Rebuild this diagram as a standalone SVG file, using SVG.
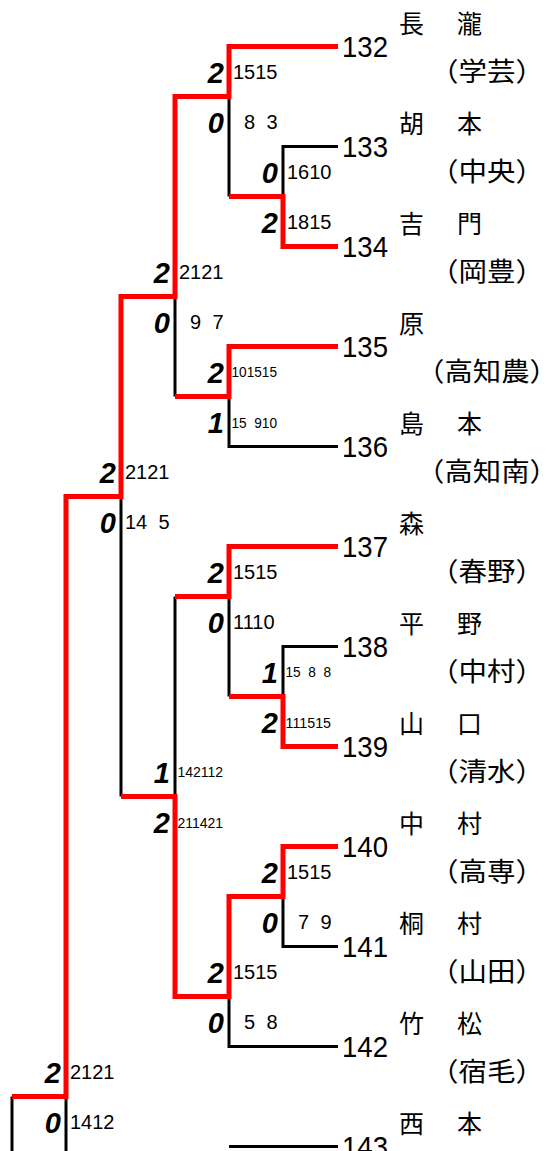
<svg xmlns="http://www.w3.org/2000/svg" width="547" height="1151" viewBox="0 0 547 1151">
<style>
.bk{fill:none;stroke:#000;stroke-width:3}
.rd{fill:none;stroke:#ff0000;stroke-width:5;stroke-linejoin:miter}
.s{font-family:"Liberation Sans",Arial,sans-serif;font-weight:bold;font-style:italic;font-size:29px;text-anchor:end;fill:#000}
.n{font-family:"Liberation Sans",Arial,sans-serif;font-size:20px;fill:#000}
.ne{font-family:"Liberation Sans",Arial,sans-serif;font-size:20px;fill:#000;text-anchor:end}
.t{font-family:"Liberation Sans",Arial,sans-serif;font-size:14.5px;fill:#000}
.te{font-family:"Liberation Sans",Arial,sans-serif;font-size:14.5px;fill:#000;text-anchor:end}
.num{font-family:"Liberation Sans",Arial,sans-serif;font-size:30px;fill:#000}
.nm{font-family:"Noto Sans CJK JP","Noto Sans CJK SC",sans-serif;font-size:25px;fill:#000}
.sc{font-family:"Noto Sans CJK JP","Noto Sans CJK SC",sans-serif;font-size:26px;fill:#000;text-anchor:middle}
</style>
<rect width="547" height="1151" fill="#fff"/>
<g id="connectors">
<path class="bk" d="M338,146.5 H283 V196.5"/>
<path class="bk" d="M229,96.5 V196.5"/>
<path class="bk" d="M338,446.5 H229 V396.5"/>
<path class="bk" d="M175,296.5 V396.5"/>
<path class="bk" d="M338,646.5 H283 V696.5"/>
<path class="bk" d="M229,596.5 V696.5"/>
<path class="bk" d="M175,596.5 V796.5"/>
<path class="bk" d="M121,496.5 V796.5"/>
<path class="bk" d="M338,946.5 H283 V896.5"/>
<path class="bk" d="M338,1046.5 H229 V996.5"/>
<path class="bk" d="M66,1096.5 V1160"/>
<path class="bk" d="M12,1096.5 V1160"/>
<path class="bk" d="M338,1146.5 H229"/>
<path class="rd" d="M338,46.5 H229 V96.5 H175 V296.5 H121 V496.5 H66 V1096.5 H12"/>
<path class="rd" d="M338,246.5 H283 V196.5 H229"/>
<path class="rd" d="M338,346.5 H229 V396.5 H175"/>
<path class="rd" d="M338,546.5 H229 V596.5 H175"/>
<path class="rd" d="M338,746.5 H283 V696.5 H229"/>
<path class="rd" d="M338,846.5 H283 V896.5 H229 V996.5 H175 V796.5 H121"/>
</g>
<g id="match-1">
<text class="s" x="224" y="82.5">2</text><text class="s" x="224" y="132.5">0</text>
<text class="n" x="233" y="79">1515</text>
<text class="ne" x="255.2" y="129">8</text><text class="ne" x="277.5" y="129">3</text>
</g>
<g id="match-2">
<text class="s" x="278" y="182.5">0</text><text class="s" x="278" y="232.5">2</text>
<text class="n" x="287" y="179">1610</text><text class="n" x="287" y="229">1815</text>
</g>
<g id="match-3">
<text class="s" x="170" y="282.5">2</text><text class="s" x="170" y="332.5">0</text>
<text class="n" x="179" y="279">2121</text>
<text class="ne" x="201.2" y="329">9</text><text class="ne" x="223.5" y="329">7</text>
</g>
<g id="match-4">
<text class="s" x="224" y="382.5">2</text><text class="s" x="224" y="432.5">1</text>
<text class="t" x="231.5" y="377" textLength="45.5" lengthAdjust="spacingAndGlyphs">101515</text>
<text class="te" x="246.7" y="427.5" textLength="15.2" lengthAdjust="spacingAndGlyphs">15</text><text class="te" x="261.9" y="427.5" textLength="7.6" lengthAdjust="spacingAndGlyphs">9</text><text class="te" x="277" y="427.5" textLength="15.2" lengthAdjust="spacingAndGlyphs">10</text>
</g>
<g id="match-5">
<text class="s" x="116" y="482.5">2</text><text class="s" x="116" y="532.5">0</text>
<text class="n" x="125" y="479">2121</text>
<text class="ne" x="147.2" y="529">14</text><text class="ne" x="169.5" y="529">5</text>
</g>
<g id="match-6">
<text class="s" x="224" y="582.5">2</text><text class="s" x="224" y="632.5">0</text>
<text class="n" x="233" y="579">1515</text><text class="n" x="233" y="629">1110</text>
</g>
<g id="match-7">
<text class="s" x="278" y="682.5">1</text><text class="s" x="278" y="732.5">2</text>
<text class="te" x="300.7" y="677" textLength="15.2" lengthAdjust="spacingAndGlyphs">15</text><text class="te" x="315.9" y="677" textLength="7.6" lengthAdjust="spacingAndGlyphs">8</text><text class="te" x="331" y="677" textLength="7.6" lengthAdjust="spacingAndGlyphs">8</text>
<text class="t" x="285.5" y="727.5" textLength="45.5" lengthAdjust="spacingAndGlyphs">111515</text>
</g>
<g id="match-8">
<text class="s" x="170" y="782.5">1</text><text class="s" x="170" y="832.5">2</text>
<text class="t" x="177.5" y="777" textLength="45.5" lengthAdjust="spacingAndGlyphs">142112</text><text class="t" x="177.5" y="827.5" textLength="45.5" lengthAdjust="spacingAndGlyphs">211421</text>
</g>
<g id="match-9">
<text class="s" x="278" y="882.5">2</text><text class="s" x="278" y="932.5">0</text>
<text class="n" x="287" y="879">1515</text>
<text class="ne" x="309.2" y="929">7</text><text class="ne" x="331.5" y="929">9</text>
</g>
<g id="match-10">
<text class="s" x="224" y="982.5">2</text><text class="s" x="224" y="1032.5">0</text>
<text class="n" x="233" y="979">1515</text>
<text class="ne" x="255.2" y="1029">5</text><text class="ne" x="277.5" y="1029">8</text>
</g>
<g id="match-11">
<text class="s" x="61" y="1082.5">2</text><text class="s" x="61" y="1132.5">0</text>
<text class="n" x="70" y="1079">2121</text><text class="n" x="70" y="1129">1412</text>
</g>
<g id="team-132"><text class="num" x="342" y="57" textLength="46" lengthAdjust="spacingAndGlyphs">132</text><text class="nm" x="399" y="32.5">長</text><text class="nm" x="457" y="32.5">瀧</text><text class="sc" x="487" y="81" textLength="114" lengthAdjust="spacingAndGlyphs">（学芸）</text></g>
<g id="team-133"><text class="num" x="342" y="157" textLength="46" lengthAdjust="spacingAndGlyphs">133</text><text class="nm" x="399" y="132.5">胡</text><text class="nm" x="457" y="132.5">本</text><text class="sc" x="487" y="181" textLength="114" lengthAdjust="spacingAndGlyphs">（中央）</text></g>
<g id="team-134"><text class="num" x="342" y="257" textLength="46" lengthAdjust="spacingAndGlyphs">134</text><text class="nm" x="399" y="232.5">吉</text><text class="nm" x="457" y="232.5">門</text><text class="sc" x="487" y="281" textLength="114" lengthAdjust="spacingAndGlyphs">（岡豊）</text></g>
<g id="team-135"><text class="num" x="342" y="357" textLength="46" lengthAdjust="spacingAndGlyphs">135</text><text class="nm" x="399" y="332.5">原</text><text class="sc" x="487" y="381" textLength="142" lengthAdjust="spacingAndGlyphs">（高知農）</text></g>
<g id="team-136"><text class="num" x="342" y="457" textLength="46" lengthAdjust="spacingAndGlyphs">136</text><text class="nm" x="399" y="432.5">島</text><text class="nm" x="457" y="432.5">本</text><text class="sc" x="487" y="481" textLength="142" lengthAdjust="spacingAndGlyphs">（高知南）</text></g>
<g id="team-137"><text class="num" x="342" y="557" textLength="46" lengthAdjust="spacingAndGlyphs">137</text><text class="nm" x="399" y="532.5">森</text><text class="sc" x="487" y="581" textLength="114" lengthAdjust="spacingAndGlyphs">（春野）</text></g>
<g id="team-138"><text class="num" x="342" y="657" textLength="46" lengthAdjust="spacingAndGlyphs">138</text><text class="nm" x="399" y="632.5">平</text><text class="nm" x="457" y="632.5">野</text><text class="sc" x="487" y="681" textLength="114" lengthAdjust="spacingAndGlyphs">（中村）</text></g>
<g id="team-139"><text class="num" x="342" y="757" textLength="46" lengthAdjust="spacingAndGlyphs">139</text><text class="nm" x="399" y="732.5">山</text><text class="nm" x="457" y="732.5">口</text><text class="sc" x="487" y="781" textLength="114" lengthAdjust="spacingAndGlyphs">（清水）</text></g>
<g id="team-140"><text class="num" x="342" y="857" textLength="46" lengthAdjust="spacingAndGlyphs">140</text><text class="nm" x="399" y="832.5">中</text><text class="nm" x="457" y="832.5">村</text><text class="sc" x="487" y="881" textLength="114" lengthAdjust="spacingAndGlyphs">（高専）</text></g>
<g id="team-141"><text class="num" x="342" y="957" textLength="46" lengthAdjust="spacingAndGlyphs">141</text><text class="nm" x="399" y="932.5">桐</text><text class="nm" x="457" y="932.5">村</text><text class="sc" x="487" y="981" textLength="114" lengthAdjust="spacingAndGlyphs">（山田）</text></g>
<g id="team-142"><text class="num" x="342" y="1057" textLength="46" lengthAdjust="spacingAndGlyphs">142</text><text class="nm" x="399" y="1032.5">竹</text><text class="nm" x="457" y="1032.5">松</text><text class="sc" x="487" y="1081" textLength="114" lengthAdjust="spacingAndGlyphs">（宿毛）</text></g>
<g id="team-143"><text class="num" x="342" y="1157" textLength="46" lengthAdjust="spacingAndGlyphs">143</text><text class="nm" x="399" y="1132.5">西</text><text class="nm" x="457" y="1132.5">本</text></g>
</svg>
